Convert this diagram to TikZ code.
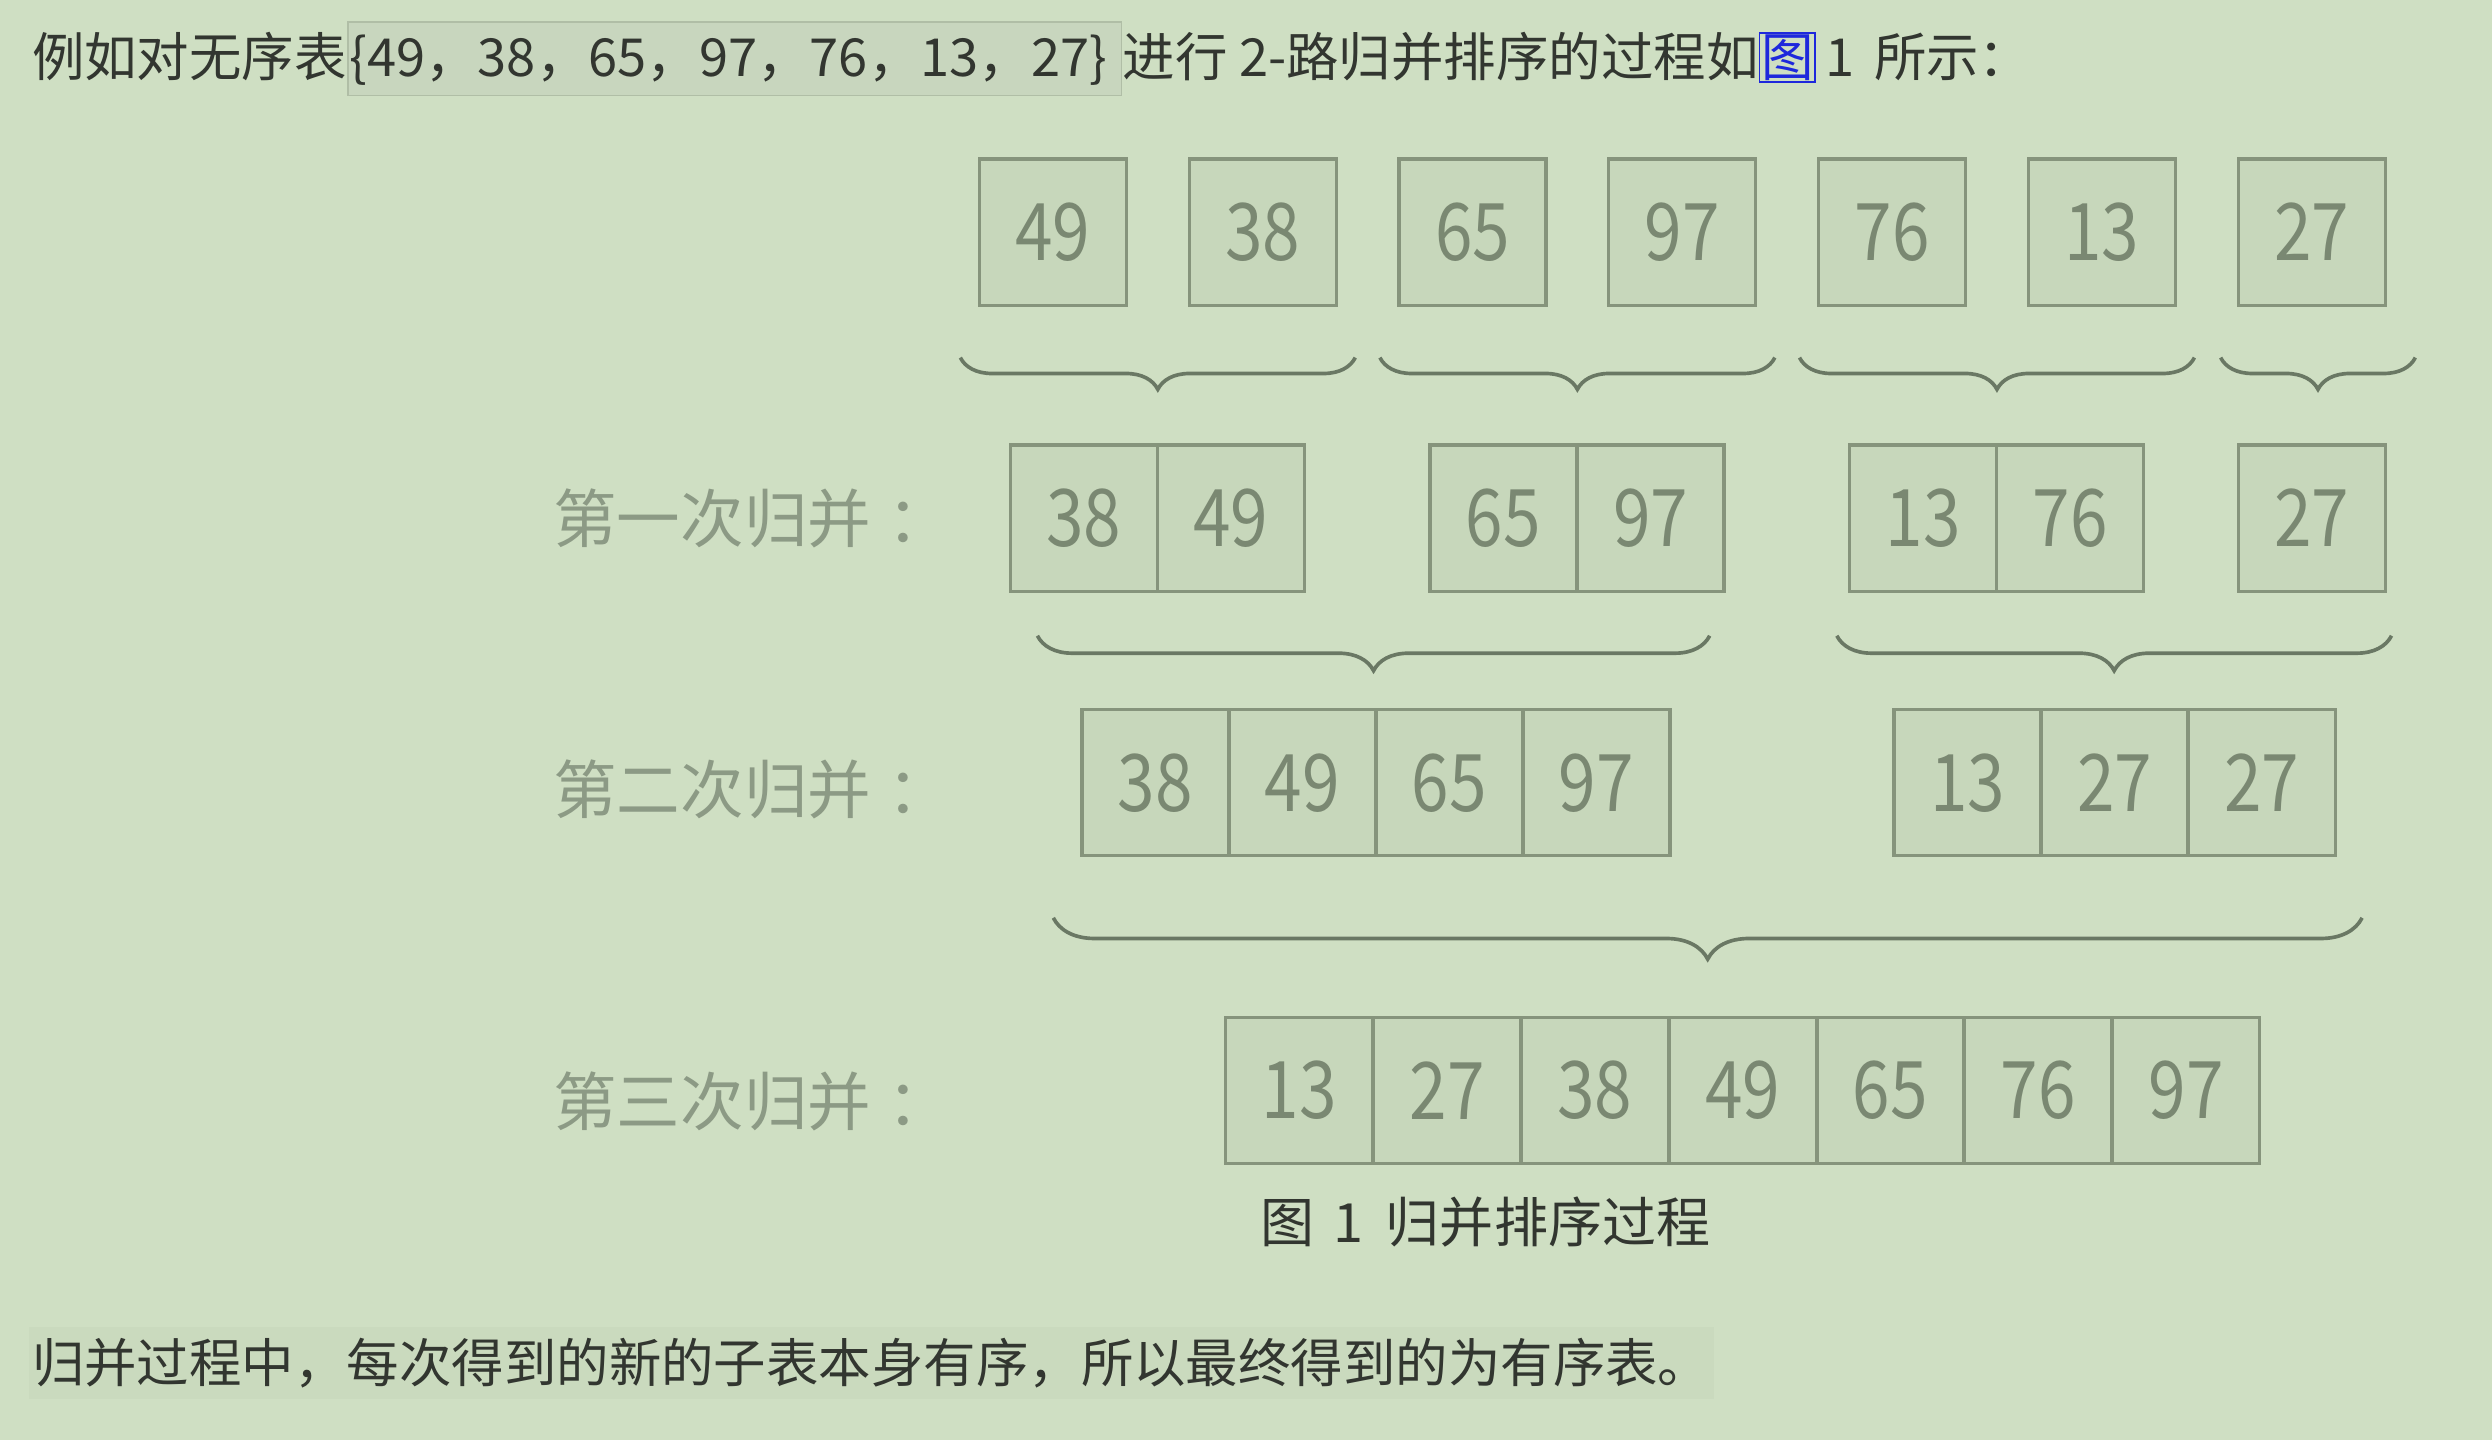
\documentclass[tikz,border=0pt]{standalone}
\usepackage{fontspec}
\setmainfont{Noto Sans CJK SC}
\newfontfamily\numfont[FakeStretch=0.85]{Noto Sans CJK SC}
\usetikzlibrary{calc,positioning,decorations.pathreplacing}
\definecolor{bg}{RGB}{207,223,195}
\definecolor{cellfill}{RGB}{199,215,187}
\definecolor{cellline}{RGB}{134,148,124}
\definecolor{numcol}{RGB}{122,136,114}
\definecolor{labcol}{RGB}{140,154,133}
\definecolor{txtcol}{RGB}{50,54,48}
\definecolor{bracecol}{RGB}{106,120,100}
\definecolor{linkblue}{RGB}{30,40,220}
\definecolor{codefill}{RGB}{200,214,190}
\definecolor{codeline}{RGB}{176,190,166}
\definecolor{bandfill}{RGB}{202,218,190}

\begin{document}
\begin{tikzpicture}[x=1pt, y=-1pt,
    cell/.style={draw=cellline, fill=cellfill, line width=2pt, outer sep=0pt, inner sep=0pt,
        minimum width=92.5pt, minimum height=92pt, text=numcol, font=\numfont\fontsize{50}{50}\selectfont},
    lab/.style={anchor=west, inner sep=0pt, text=labcol, font=\fontsize{40}{40}\selectfont},
    txt/.style={anchor=base west, inner sep=0pt, text=txtcol, font=\fontsize{33}{40}\selectfont},
    brc/.style={decorate, decoration={brace, mirror, amplitude=#1}, line width=2.3pt, draw=bracecol}]
                \fill[bg] (0,0) rectangle (1568,906);
                \useasboundingbox (0,0) rectangle (1568,906);
                \node[txt] (intro) at (20, 48) {例如对无序表};
                \node[txt, draw=codeline, fill=codefill, line width=1pt, inner xsep=1pt, inner ysep=6pt,
                    text height=28pt, text depth=6pt] (seq) at (intro.base east) {\{49，38，65，97，76，13，27\}\kern8pt};
                \node[txt] (rest) at (seq.base east) {进行 2-路归并排序的过程如};
                \node[txt, text=linkblue, draw=linkblue, line width=1pt, inner sep=1pt] (lnk) at (rest.base east) {图};
                \node[txt] (tail) at (lnk.base east) {\hspace{6pt}1\hspace{12pt}所示：};
                \foreach \n [count=\i] in {49,38,65,97,76,13,27} {
                    \pgfmathsetmacro{\x}{662.5 + 132*(\i - 1)}
                    \node[cell] (t\i) at (\x, 146) {\n};
                }
                \node[cell] (a1) at (682, 326) {38};
                \node[cell, right=0pt of a1] (a2) {49};
                \node[cell] (b1) at (946, 326) {65};
                \node[cell, right=0pt of b1] (b2) {97};
                \node[cell] (c1) at (1210, 326) {13};
                \node[cell, right=0pt of c1] (c2) {76};
                \node[cell] (d1) at (1454.5, 326) {27};
                \foreach \n [count=\i] in {38,49,65,97} {
                    \pgfmathsetmacro{\x}{727 + 92.5*(\i - 1)}
                    \node[cell] (e\i) at (\x, 492.5) {\n};
                }
                \foreach \n [count=\i] in {13,27,27} {
                    \pgfmathsetmacro{\x}{1238 + 92.5*(\i - 1)}
                    \node[cell] (f\i) at (\x, 492.5) {\n};
                }
                \foreach \n [count=\i] in {13,27,38,49,65,76,97} {
                    \pgfmathsetmacro{\x}{817.5 + 93*(\i - 1)}
                    \node[cell] (g\i) at (\x, 686) {\n};
                }
                \foreach \l/\r in {1/2,3/4,5/6} {
                    \draw[brc=20pt] ($(t\l.south west)+(-12,33)$) -- ($(t\r.south east)+(12,33)$);
                }
                \draw[brc=20pt] ($(t7.south west)+(-11,33)$) -- ($(t7.south east)+(19,33)$);
                \draw[brc=22pt] ($(a1.south west)+(17,28)$) -- ($(b2.south east)+(-9,28)$);
                \draw[brc=22pt] ($(c1.south west)+(-8,28)$) -- ($(d1.south east)+(4,28)$);
                \draw[brc=26pt] ($(e1.south west)+(-18,39)$) -- ($(f3.south east)+(17,39)$);
                \node[lab] (m1) at (348, 326) {第一次归并\hspace{10pt}：};
                \node[lab] (m2) at (348, 497) {第二次归并\hspace{10pt}：};
                \node[lab] (m3) at (348, 693) {第三次归并\hspace{10pt}：};
                \node[txt, font=\fontsize{34}{40}\selectfont] (cap) at (793, 782) {图\hspace{12pt}1\hspace{14pt}归并排序过程};
                \node[txt, fill=bandfill, inner xsep=2pt, inner ysep=6pt, text height=29pt, text depth=4pt]
                    (note) at (18, 870) {归并过程中，每次得到的新的子表本身有序，所以最终得到的为有序表。};
            \end{tikzpicture}
\end{document}
